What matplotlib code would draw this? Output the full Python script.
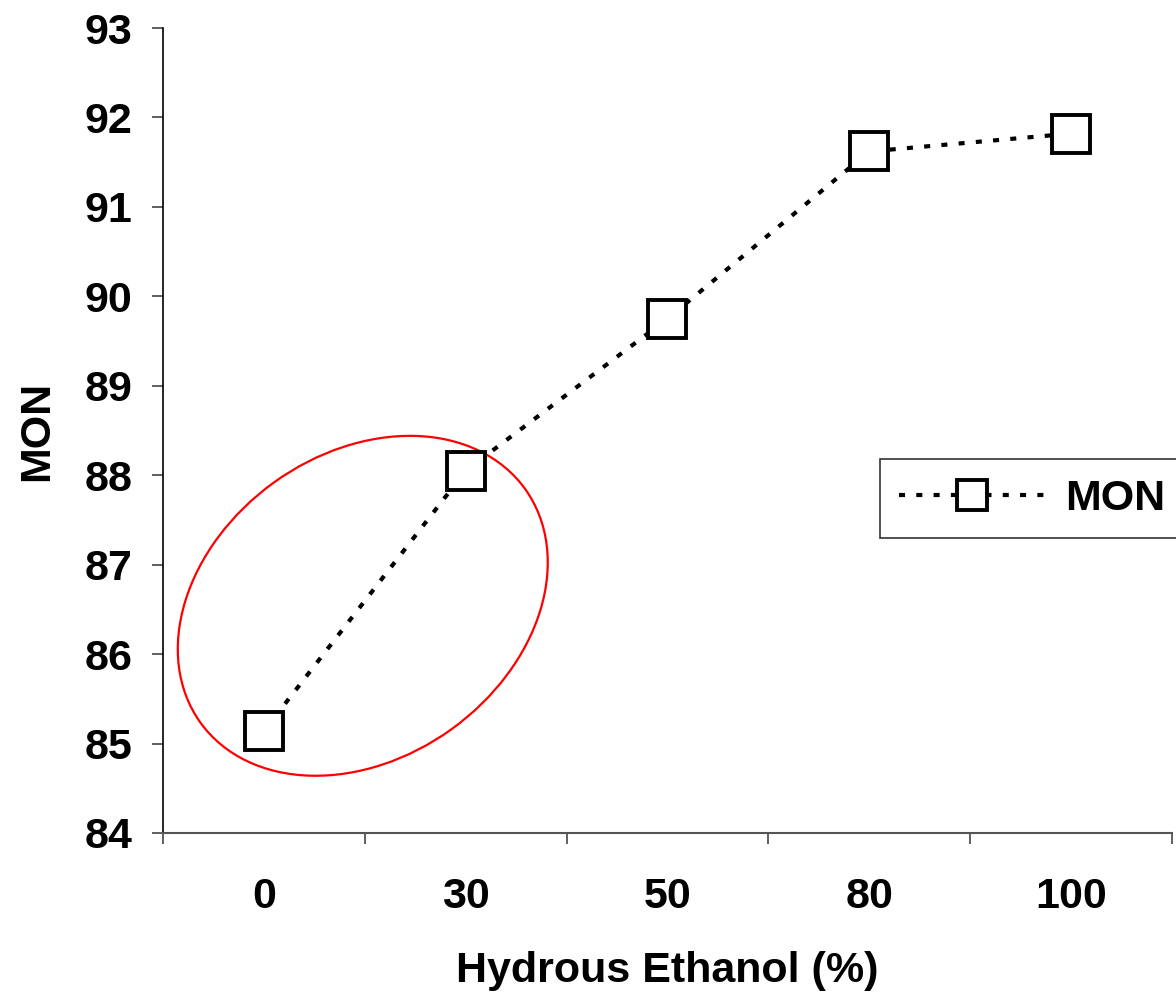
import matplotlib
matplotlib.use("Agg")
import matplotlib.pyplot as plt
import matplotlib.transforms as mtransforms
from matplotlib.patches import Ellipse

# --- data ---
ethanol = ["0", "30", "50", "80", "100"]
mon = [85.14, 88.05, 89.75, 91.62, 91.82]
y_ticks = [84, 85, 86, 87, 88, 89, 90, 91, 92, 93]

plt.rcParams["font.family"] = ["Liberation Sans", "DejaVu Sans"]
plt.rcParams["font.weight"] = "bold"
FS = 31

fig = plt.figure(figsize=(11.76, 9.94), dpi=100)
ax = fig.add_axes([0.1386, 0.162, 0.858, 0.8098])

x = list(range(len(ethanol)))
ax.plot(x, mon, color="black", linewidth=3, linestyle=(0, (1.45, 2.7)),
        marker="s", markersize=27, markerfacecolor="white",
        markeredgecolor="black", markeredgewidth=2.8, label="MON")

ax.set_xlim(-0.5, len(ethanol) - 0.5)
ax.set_ylim(84, 93)
ax.set_yticks(y_ticks)

# category labels in the middle, tick marks between categories
ax.set_xticks(x)
ax.set_xticklabels(ethanol)
ax.set_xticks([i - 0.5 for i in range(len(ethanol) + 1)], minor=True)
ax.tick_params(axis="x", which="major", length=0, pad=32, labelsize=FS)
ax.tick_params(axis="x", which="minor", length=8, width=1.2, color="#444444")
ax.tick_params(axis="y", length=8, width=1.2, color="#444444", pad=14, labelsize=FS)
for lab in ax.get_xticklabels() + ax.get_yticklabels():
    lab.set_fontweight("bold")

ax.spines["top"].set_visible(False)
ax.spines["right"].set_visible(False)
ax.spines["left"].set_color("black")
ax.spines["bottom"].set_color("#555555")
ax.spines["left"].set_linewidth(1.2)
ax.spines["bottom"].set_linewidth(1.5)

ax.set_xlabel("Hydrous Ethanol (%)", fontsize=FS, fontweight="bold", labelpad=24)
ax.set_ylabel("MON", fontsize=FS, fontweight="bold", labelpad=20)

# red ring around the first two points
trans = fig.dpi_scale_trans + mtransforms.ScaledTranslation(0.49, 86.54, ax.transData)
ring = Ellipse((0, 0), 4.0, 3.04, angle=35.8, fill=False, edgecolor="red",
               linewidth=1.6, transform=trans, clip_on=False)
ax.add_patch(ring)

leg = ax.legend(loc="upper left", bbox_to_anchor=(0.748, 0.538),
                bbox_transform=fig.transFigure, fontsize=FS, frameon=True,
                fancybox=False, handlelength=3.4, handletextpad=0.45,
                borderpad=0.45, markerscale=0.78, borderaxespad=0)
leg.get_frame().set_edgecolor("black")
leg.get_frame().set_linewidth(1.2)
for t in leg.get_texts():
    t.set_fontweight("bold")

fig.savefig("out.png", dpi=100)
